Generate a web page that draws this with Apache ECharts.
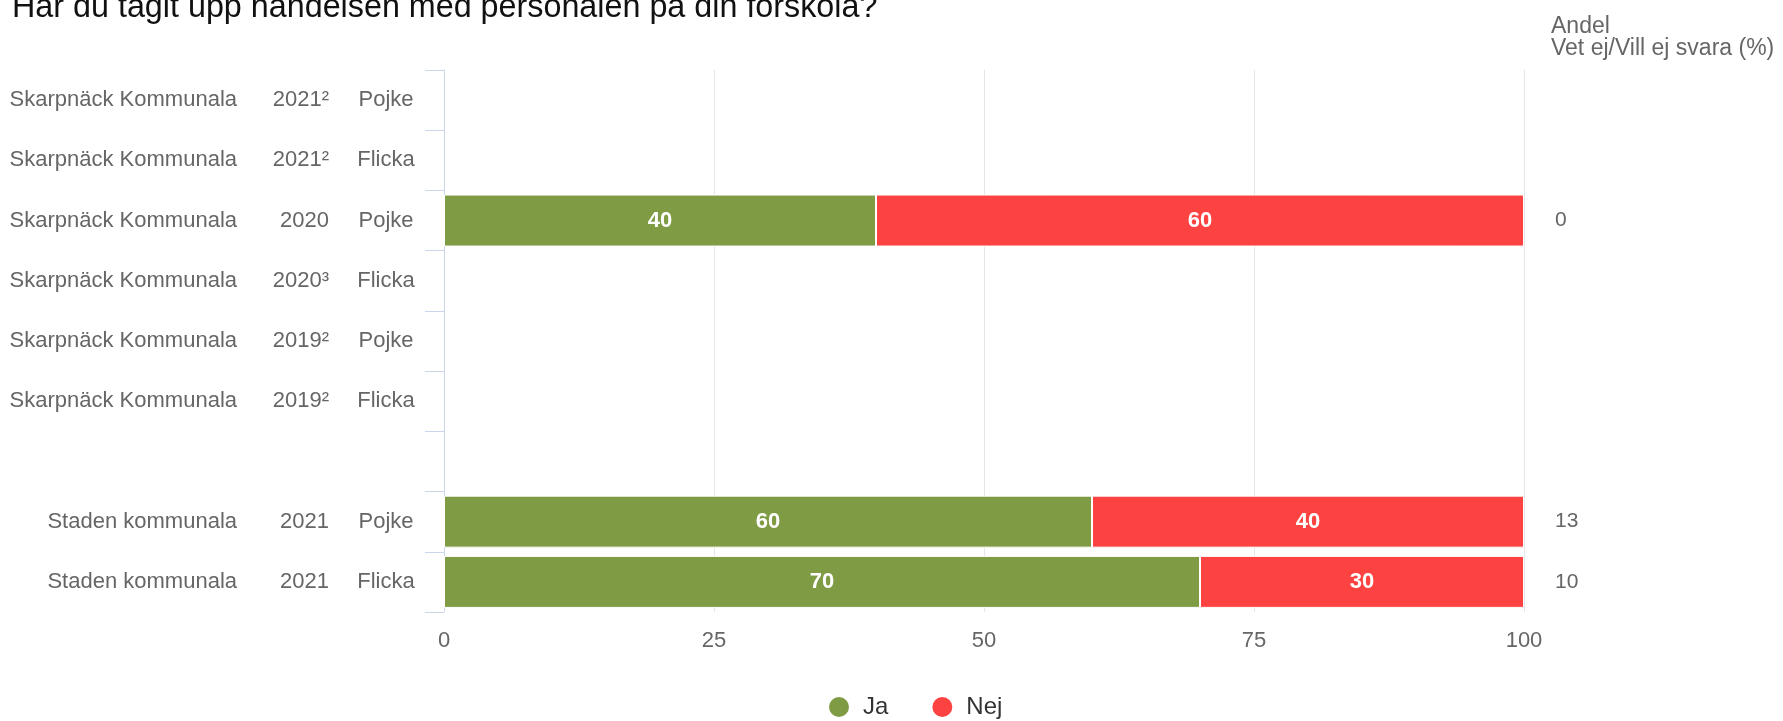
<!DOCTYPE html>
<html><head><meta charset="utf-8">
<script src="https://cdn.jsdelivr.net/npm/echarts@6/dist/echarts.min.js"></script>
<style>html,body{margin:0;padding:0;background:#fff}#c{width:1783px;height:721px}</style>
</head><body><div id="c"></div>
<script>
const units = ['Skarpnäck Kommunala','Skarpnäck Kommunala','Skarpnäck Kommunala','Skarpnäck Kommunala','Skarpnäck Kommunala','Skarpnäck Kommunala','','Staden kommunala','Staden kommunala'];
const years = ['2021²','2021²','2020','2020³','2019²','2019²','','2021','2021'];
const genders = ['Pojke','Flicka','Pojke','Flicka','Pojke','Flicka','','Pojke','Flicka'];
const ja = [null,null,40,null,null,null,null,60,70];
const nej = [null,null,60,null,null,null,null,40,30];
const vetEj = ['','','0','','','','','13','10'];
const seriesNames = ['Ja','Nej'];
const titleText = 'Har du tagit upp händelsen med personalen på din förskola?';
const sideHeader = 'Andel\nVet ej/Vill ej svara (%)';

const cats = units.map((u,i)=> u ? (u+'|'+years[i]+'|'+genders[i]) : ' ');
const FONT = '"Liberation Sans", Arial, Helvetica, sans-serif';
const LBL = '#666';
function labelAxis(arr, margin, align){
  return {
    type:'category',data:cats,inverse:true,position:'left',offset:0,
    axisLine:{show:false},axisTick:{show:false},splitLine:{show:false},
    axisLabel:{margin:margin,align:align,interval:0,fontSize:22,color:LBL,fontFamily:FONT,
      formatter:(v,i)=>arr[i]}
  };
}
const chart = echarts.init(document.getElementById('c'));
chart.setOption({
  animation:false,
  textStyle:{fontFamily:FONT},
  title:[
    {text:titleText,left:7,top:-13,textStyle:{fontSize:32.3,fontWeight:'normal',color:'#111',fontFamily:FONT}},
    {text:sideHeader,left:1546,top:11,textStyle:{fontSize:23,fontWeight:'normal',color:LBL,lineHeight:22,fontFamily:FONT}}
  ],
  legend:{
    data:seriesNames,left:822,top:690,icon:'circle',itemWidth:22,itemHeight:22,itemGap:42,
    textStyle:{fontSize:24,color:'#333',padding:[0,0,0,8],fontFamily:FONT}
  },
  grid:{left:444,right:259,top:70,bottom:109,containLabel:false},
  xAxis:{
    type:'value',min:0,max:100,interval:25,
    axisLine:{show:false},axisTick:{show:false},
    splitLine:{show:true,lineStyle:{color:'#e6e6e6',width:1}},
    axisLabel:{fontSize:22,color:LBL,margin:18,fontFamily:FONT}
  },
  yAxis:[{
    type:'category',data:cats,inverse:true,position:'left',
    axisLine:{show:true,lineStyle:{color:'#ccd6eb',width:1}},
    axisTick:{show:true,length:19,lineStyle:{color:'#ccd6eb'}},
    axisLabel:{show:true,margin:58,align:'center',interval:0,fontSize:22,color:LBL,fontFamily:FONT,
      formatter:(v,i)=>genders[i]}
  },
  labelAxis(years,115,'right'),
  labelAxis(units,207,'right'),
  {
    type:'category',data:cats,inverse:true,position:'right',
    axisLine:{show:false},axisTick:{show:false},
    axisLabel:{margin:31,interval:0,align:'left',fontSize:21,color:LBL,fontFamily:FONT,
      formatter:(v,i)=>vetEj[i]}
  }],
  series:[
    {name:seriesNames[0],type:'bar',stack:'s',data:ja,barWidth:52,yAxisIndex:0,
     itemStyle:{color:'#7f9c45',borderColor:'#fff',borderWidth:1},
     label:{show:true,position:'inside',color:'#fff',fontWeight:'bold',fontSize:22,fontFamily:FONT}},
    {name:seriesNames[1],type:'bar',stack:'s',data:nej,barWidth:52,yAxisIndex:0,
     itemStyle:{color:'#fd4242',borderColor:'#fff',borderWidth:1},
     label:{show:true,position:'inside',color:'#fff',fontWeight:'bold',fontSize:22,fontFamily:FONT}}
  ]
});
</script></body></html>
